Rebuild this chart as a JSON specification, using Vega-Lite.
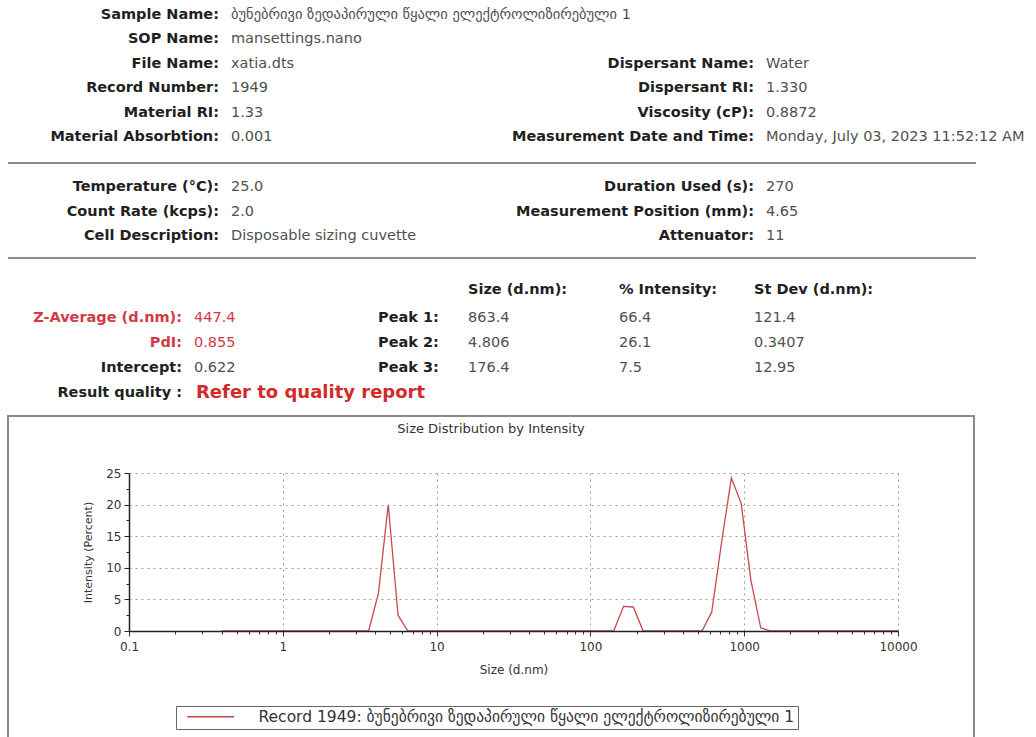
{
  "$schema": "https://vega.github.io/schema/vega-lite/v6.json",
  "background": "white",
  "padding": {"left": 7, "top": 0, "right": 0, "bottom": 0},
  "config": {"font": "DejaVu Sans", "view": {"stroke": null}, "concat": {"spacing": 10}},
  "datasets": {
    "separators": [{"row": 7}, {"row": 11}],
    "info": [
      {"row": 1, "col": 2, "label": "Sample Name:", "value": "ბუნებრივი ზედაპირული წყალი ელექტროლიზირებული 1", "kind": "normal"},
      {"row": 2, "col": 2, "label": "SOP Name:", "value": "mansettings.nano", "kind": "normal"},
      {"row": 3, "col": 2, "label": "File Name:", "value": "xatia.dts", "kind": "normal"},
      {"row": 4, "col": 2, "label": "Record Number:", "value": "1949", "kind": "normal"},
      {"row": 5, "col": 2, "label": "Material RI:", "value": "1.33", "kind": "normal"},
      {"row": 6, "col": 2, "label": "Material Absorbtion:", "value": "0.001", "kind": "normal"},
      {"row": 3, "col": 7, "label": "Dispersant Name:", "value": "Water", "kind": "normal"},
      {"row": 4, "col": 7, "label": "Dispersant RI:", "value": "1.330", "kind": "normal"},
      {"row": 5, "col": 7, "label": "Viscosity (cP):", "value": "0.8872", "kind": "normal"},
      {"row": 6, "col": 7, "label": "Measurement Date and Time:", "value": "Monday, July 03, 2023 11:52:12 AM", "kind": "normal"},
      {"row": 8, "col": 2, "label": "Temperature (°C):", "value": "25.0", "kind": "normal"},
      {"row": 9, "col": 2, "label": "Count Rate (kcps):", "value": "2.0", "kind": "normal"},
      {"row": 10, "col": 2, "label": "Cell Description:", "value": "Disposable sizing cuvette", "kind": "normal"},
      {"row": 8, "col": 7, "label": "Duration Used (s):", "value": "270", "kind": "normal"},
      {"row": 9, "col": 7, "label": "Measurement Position (mm):", "value": "4.65", "kind": "normal"},
      {"row": 10, "col": 7, "label": "Attenuator:", "value": "11", "kind": "normal"},
      {"row": 13, "col": 1, "label": "Z-Average (d.nm):", "value": "447.4", "kind": "alert"},
      {"row": 14, "col": 1, "label": "PdI:", "value": "0.855", "kind": "alert"},
      {"row": 15, "col": 1, "label": "Intercept:", "value": "0.622", "kind": "normal"},
      {"row": 16, "col": 1, "label": "Result quality :", "value": "Refer to quality report", "kind": "quality"}
    ],
    "table": [
      {"row": 12, "col": 4, "text": "Size (d.nm):", "head": true},
      {"row": 12, "col": 5, "text": "% Intensity:", "head": true},
      {"row": 12, "col": 6, "text": "St Dev (d.nm):", "head": true},
      {"row": 13, "col": 3, "text": "Peak 1:", "head": true},
      {"row": 14, "col": 3, "text": "Peak 2:", "head": true},
      {"row": 15, "col": 3, "text": "Peak 3:", "head": true},
      {"row": 13, "col": 4, "text": "863.4", "head": false},
      {"row": 13, "col": 5, "text": "66.4", "head": false},
      {"row": 13, "col": 6, "text": "121.4", "head": false},
      {"row": 14, "col": 4, "text": "4.806", "head": false},
      {"row": 14, "col": 5, "text": "26.1", "head": false},
      {"row": 14, "col": 6, "text": "0.3407", "head": false},
      {"row": 15, "col": 4, "text": "176.4", "head": false},
      {"row": 15, "col": 5, "text": "7.5", "head": false},
      {"row": 15, "col": 6, "text": "12.95", "head": false}
    ],
    "curve": [
      {"size": 0.4, "intensity": 0, "series": "Record 1949: ბუნებრივი ზედაპირული წყალი ელექტროლიზირებული 1"},
      {"size": 0.4632, "intensity": 0, "series": "Record 1949: ბუნებრივი ზედაპირული წყალი ელექტროლიზირებული 1"},
      {"size": 0.5365, "intensity": 0, "series": "Record 1949: ბუნებრივი ზედაპირული წყალი ელექტროლიზირებული 1"},
      {"size": 0.6213, "intensity": 0, "series": "Record 1949: ბუნებრივი ზედაპირული წყალი ელექტროლიზირებული 1"},
      {"size": 0.7195, "intensity": 0, "series": "Record 1949: ბუნებრივი ზედაპირული წყალი ელექტროლიზირებული 1"},
      {"size": 0.8332, "intensity": 0, "series": "Record 1949: ბუნებრივი ზედაპირული წყალი ელექტროლიზირებული 1"},
      {"size": 0.9649, "intensity": 0, "series": "Record 1949: ბუნებრივი ზედაპირული წყალი ელექტროლიზირებული 1"},
      {"size": 1.117, "intensity": 0, "series": "Record 1949: ბუნებრივი ზედაპირული წყალი ელექტროლიზირებული 1"},
      {"size": 1.294, "intensity": 0, "series": "Record 1949: ბუნებრივი ზედაპირული წყალი ელექტროლიზირებული 1"},
      {"size": 1.499, "intensity": 0, "series": "Record 1949: ბუნებრივი ზედაპირული წყალი ელექტროლიზირებული 1"},
      {"size": 1.736, "intensity": 0, "series": "Record 1949: ბუნებრივი ზედაპირული წყალი ელექტროლიზირებული 1"},
      {"size": 2.01, "intensity": 0, "series": "Record 1949: ბუნებრივი ზედაპირული წყალი ელექტროლიზირებული 1"},
      {"size": 2.328, "intensity": 0, "series": "Record 1949: ბუნებრივი ზედაპირული წყალი ელექტროლიზირებული 1"},
      {"size": 2.696, "intensity": 0, "series": "Record 1949: ბუნებრივი ზედაპირული წყალი ელექტროლიზირებული 1"},
      {"size": 3.122, "intensity": 0, "series": "Record 1949: ბუნებრივი ზედაპირული წყალი ელექტროლიზირებული 1"},
      {"size": 3.615, "intensity": 0, "series": "Record 1949: ბუნებრივი ზედაპირული წყალი ელექტროლიზირებული 1"},
      {"size": 4.187, "intensity": 6.0, "series": "Record 1949: ბუნებრივი ზედაპირული წყალი ელექტროლიზირებული 1"},
      {"size": 4.849, "intensity": 20.0, "series": "Record 1949: ბუნებრივი ზედაპირული წყალი ელექტროლიზირებული 1"},
      {"size": 5.615, "intensity": 2.5, "series": "Record 1949: ბუნებრივი ზედაპირული წყალი ელექტროლიზირებული 1"},
      {"size": 6.503, "intensity": 0, "series": "Record 1949: ბუნებრივი ზედაპირული წყალი ელექტროლიზირებული 1"},
      {"size": 7.531, "intensity": 0, "series": "Record 1949: ბუნებრივი ზედაპირული წყალი ელექტროლიზირებული 1"},
      {"size": 8.721, "intensity": 0, "series": "Record 1949: ბუნებრივი ზედაპირული წყალი ელექტროლიზირებული 1"},
      {"size": 10.1, "intensity": 0, "series": "Record 1949: ბუნებრივი ზედაპირული წყალი ელექტროლიზირებული 1"},
      {"size": 11.7, "intensity": 0, "series": "Record 1949: ბუნებრივი ზედაპირული წყალი ელექტროლიზირებული 1"},
      {"size": 13.54, "intensity": 0, "series": "Record 1949: ბუნებრივი ზედაპირული წყალი ელექტროლიზირებული 1"},
      {"size": 15.69, "intensity": 0, "series": "Record 1949: ბუნებრივი ზედაპირული წყალი ელექტროლიზირებული 1"},
      {"size": 18.17, "intensity": 0, "series": "Record 1949: ბუნებრივი ზედაპირული წყალი ელექტროლიზირებული 1"},
      {"size": 21.04, "intensity": 0, "series": "Record 1949: ბუნებრივი ზედაპირული წყალი ელექტროლიზირებული 1"},
      {"size": 24.36, "intensity": 0, "series": "Record 1949: ბუნებრივი ზედაპირული წყალი ელექტროლიზირებული 1"},
      {"size": 28.21, "intensity": 0, "series": "Record 1949: ბუნებრივი ზედაპირული წყალი ელექტროლიზირებული 1"},
      {"size": 32.67, "intensity": 0, "series": "Record 1949: ბუნებრივი ზედაპირული წყალი ელექტროლიზირებული 1"},
      {"size": 37.84, "intensity": 0, "series": "Record 1949: ბუნებრივი ზედაპირული წყალი ელექტროლიზირებული 1"},
      {"size": 43.82, "intensity": 0, "series": "Record 1949: ბუნებრივი ზედაპირული წყალი ელექტროლიზირებული 1"},
      {"size": 50.75, "intensity": 0, "series": "Record 1949: ბუნებრივი ზედაპირული წყალი ელექტროლიზირებული 1"},
      {"size": 58.77, "intensity": 0, "series": "Record 1949: ბუნებრივი ზედაპირული წყალი ელექტროლიზირებული 1"},
      {"size": 68.06, "intensity": 0, "series": "Record 1949: ბუნებრივი ზედაპირული წყალი ელექტროლიზირებული 1"},
      {"size": 78.82, "intensity": 0, "series": "Record 1949: ბუნებრივი ზედაპირული წყალი ელექტროლიზირებული 1"},
      {"size": 91.28, "intensity": 0, "series": "Record 1949: ბუნებრივი ზედაპირული წყალი ელექტროლიზირებული 1"},
      {"size": 105.7, "intensity": 0, "series": "Record 1949: ბუნებრივი ზედაპირული წყალი ელექტროლიზირებული 1"},
      {"size": 122.4, "intensity": 0, "series": "Record 1949: ბუნებრივი ზედაპირული წყალი ელექტროლიზირებული 1"},
      {"size": 141.8, "intensity": 0, "series": "Record 1949: ბუნებრივი ზედაპირული წყალი ელექტროლიზირებული 1"},
      {"size": 164.2, "intensity": 3.9, "series": "Record 1949: ბუნებრივი ზედაპირული წყალი ელექტროლიზირებული 1"},
      {"size": 190.1, "intensity": 3.8, "series": "Record 1949: ბუნებრივი ზედაპირული წყალი ელექტროლიზირებული 1"},
      {"size": 220.2, "intensity": 0, "series": "Record 1949: ბუნებრივი ზედაპირული წყალი ელექტროლიზირებული 1"},
      {"size": 255.0, "intensity": 0, "series": "Record 1949: ბუნებრივი ზედაპირული წყალი ელექტროლიზირებული 1"},
      {"size": 295.3, "intensity": 0, "series": "Record 1949: ბუნებრივი ზედაპირული წყალი ელექტროლიზირებული 1"},
      {"size": 342.0, "intensity": 0, "series": "Record 1949: ბუნებრივი ზედაპირული წყალი ელექტროლიზირებული 1"},
      {"size": 396.1, "intensity": 0, "series": "Record 1949: ბუნებრივი ზედაპირული წყალი ელექტროლიზირებული 1"},
      {"size": 458.7, "intensity": 0, "series": "Record 1949: ბუნებრივი ზედაპირული წყალი ელექტროლიზირებული 1"},
      {"size": 531.2, "intensity": 0, "series": "Record 1949: ბუნებრივი ზედაპირული წყალი ელექტროლიზირებული 1"},
      {"size": 615.1, "intensity": 3.0, "series": "Record 1949: ბუნებრივი ზედაპირული წყალი ელექტროლიზირებული 1"},
      {"size": 712.4, "intensity": 14.0, "series": "Record 1949: ბუნებრივი ზედაპირული წყალი ელექტროლიზირებული 1"},
      {"size": 825.0, "intensity": 24.2, "series": "Record 1949: ბუნებრივი ზედაპირული წყალი ელექტროლიზირებული 1"},
      {"size": 955.4, "intensity": 20.2, "series": "Record 1949: ბუნებრივი ზედაპირული წყალი ელექტროლიზირებული 1"},
      {"size": 1106, "intensity": 8.0, "series": "Record 1949: ბუნებრივი ზედაპირული წყალი ელექტროლიზირებული 1"},
      {"size": 1281, "intensity": 0.5, "series": "Record 1949: ბუნებრივი ზედაპირული წყალი ელექტროლიზირებული 1"},
      {"size": 1484, "intensity": 0, "series": "Record 1949: ბუნებრივი ზედაპირული წყალი ელექტროლიზირებული 1"},
      {"size": 1718, "intensity": 0, "series": "Record 1949: ბუნებრივი ზედაპირული წყალი ელექტროლიზირებული 1"},
      {"size": 1990, "intensity": 0, "series": "Record 1949: ბუნებრივი ზედაპირული წყალი ელექტროლიზირებული 1"},
      {"size": 2305, "intensity": 0, "series": "Record 1949: ბუნებრივი ზედაპირული წყალი ელექტროლიზირებული 1"},
      {"size": 2669, "intensity": 0, "series": "Record 1949: ბუნებრივი ზედაპირული წყალი ელექტროლიზირებული 1"},
      {"size": 3091, "intensity": 0, "series": "Record 1949: ბუნებრივი ზედაპირული წყალი ელექტროლიზირებული 1"},
      {"size": 3580, "intensity": 0, "series": "Record 1949: ბუნებრივი ზედაპირული წყალი ელექტროლიზირებული 1"},
      {"size": 4145, "intensity": 0, "series": "Record 1949: ბუნებრივი ზედაპირული წყალი ელექტროლიზირებული 1"},
      {"size": 4801, "intensity": 0, "series": "Record 1949: ბუნებრივი ზედაპირული წყალი ელექტროლიზირებული 1"},
      {"size": 5560, "intensity": 0, "series": "Record 1949: ბუნებრივი ზედაპირული წყალი ელექტროლიზირებული 1"},
      {"size": 6439, "intensity": 0, "series": "Record 1949: ბუნებრივი ზედაპირული წყალი ელექტროლიზირებული 1"},
      {"size": 7456, "intensity": 0, "series": "Record 1949: ბუნებრივი ზედაპირული წყალი ელექტროლიზირებული 1"},
      {"size": 8635, "intensity": 0, "series": "Record 1949: ბუნებრივი ზედაპირული წყალი ელექტროლიზირებული 1"},
      {"size": 10000, "intensity": 0, "series": "Record 1949: ბუნებრივი ზედაპირული წყალი ელექტროლიზირებული 1"}
    ]
  },
  "vconcat": [
    {
      "width": 968,
      "height": 405,
      "layer": [
        {
          "data": {"name": "separators"},
          "mark": {"type": "rule", "color": "#8c8c8c", "strokeWidth": 2},
          "encoding": {
            "y": {"field": "row", "type": "quantitative", "axis": null,
                  "scale": {"domain": [1, 6, 7, 10, 11, 12, 13, 16], "range": [15, 137, 163, 236, 258, 290, 318, 393], "nice": false, "zero": false}}
          }
        },
        {
          "data": {"name": "info"},
          "mark": {"type": "text", "align": "right", "baseline": "middle", "dx": -6, "fontWeight": "bold", "fontSize": 14.5},
          "encoding": {
            "x": {"field": "col", "type": "quantitative", "axis": null,
                  "scale": {"domain": [1, 2, 3, 4, 5, 6, 7], "range": [180, 217, 370, 460, 611, 746, 752], "nice": false, "zero": false}},
            "y": {"field": "row", "type": "quantitative", "axis": null,
                  "scale": {"domain": [1, 6, 7, 10, 11, 12, 13, 16], "range": [15, 137, 163, 236, 258, 290, 318, 393], "nice": false, "zero": false}},
            "text": {"field": "label"},
            "color": {"condition": {"test": "datum.kind === 'alert'", "value": "#d23a45"}, "value": "#1f1f1f"}
          }
        },
        {
          "data": {"name": "info"},
          "transform": [{"filter": "datum.kind !== 'quality'"}],
          "mark": {"type": "text", "align": "left", "baseline": "middle", "dx": 6, "fontSize": 14.5},
          "encoding": {
            "x": {"field": "col", "type": "quantitative", "axis": null,
                  "scale": {"domain": [1, 2, 3, 4, 5, 6, 7], "range": [180, 217, 370, 460, 611, 746, 752], "nice": false, "zero": false}},
            "y": {"field": "row", "type": "quantitative", "axis": null,
                  "scale": {"domain": [1, 6, 7, 10, 11, 12, 13, 16], "range": [15, 137, 163, 236, 258, 290, 318, 393], "nice": false, "zero": false}},
            "text": {"field": "value"},
            "color": {"condition": {"test": "datum.kind === 'alert'", "value": "#d23a45"}, "value": "#505050"}
          }
        },
        {
          "data": {"name": "info"},
          "transform": [{"filter": "datum.kind === 'quality'"}],
          "mark": {"type": "text", "align": "left", "baseline": "middle", "dx": 8, "fontSize": 18, "fontWeight": "bold", "color": "#d12a2a"},
          "encoding": {
            "x": {"field": "col", "type": "quantitative", "axis": null,
                  "scale": {"domain": [1, 2, 3, 4, 5, 6, 7], "range": [180, 217, 370, 460, 611, 746, 752], "nice": false, "zero": false}},
            "y": {"field": "row", "type": "quantitative", "axis": null,
                  "scale": {"domain": [1, 6, 7, 10, 11, 12, 13, 16], "range": [15, 137, 163, 236, 258, 290, 318, 393], "nice": false, "zero": false}},
            "text": {"field": "value"}
          }
        },
        {
          "data": {"name": "table"},
          "transform": [{"filter": "datum.head"}],
          "mark": {"type": "text", "align": "left", "baseline": "middle", "fontSize": 14.5, "fontWeight": "bold", "color": "#1f1f1f"},
          "encoding": {
            "x": {"field": "col", "type": "quantitative", "axis": null,
                  "scale": {"domain": [1, 2, 3, 4, 5, 6, 7], "range": [180, 217, 370, 460, 611, 746, 752], "nice": false, "zero": false}},
            "y": {"field": "row", "type": "quantitative", "axis": null,
                  "scale": {"domain": [1, 6, 7, 10, 11, 12, 13, 16], "range": [15, 137, 163, 236, 258, 290, 318, 393], "nice": false, "zero": false}},
            "text": {"field": "text"}
          }
        },
        {
          "data": {"name": "table"},
          "transform": [{"filter": "!datum.head"}],
          "mark": {"type": "text", "align": "left", "baseline": "middle", "fontSize": 14.5, "color": "#505050"},
          "encoding": {
            "x": {"field": "col", "type": "quantitative", "axis": null,
                  "scale": {"domain": [1, 2, 3, 4, 5, 6, 7], "range": [180, 217, 370, 460, 611, 746, 752], "nice": false, "zero": false}},
            "y": {"field": "row", "type": "quantitative", "axis": null,
                  "scale": {"domain": [1, 6, 7, 10, 11, 12, 13, 16], "range": [15, 137, 163, 236, 258, 290, 318, 393], "nice": false, "zero": false}},
            "text": {"field": "text"}
          }
        }
      ]
    },
    {
      "width": 966,
      "height": 330,
      "view": {"stroke": "#8a8a8a", "strokeWidth": 2},
      "title": {"text": "Size Distribution by Intensity", "fontSize": 13, "fontWeight": "normal", "color": "#333333", "anchor": "middle", "frame": "group", "offset": -20},
      "data": {"name": "curve"},
      "layer": [
        {
          "mark": {"type": "line", "strokeWidth": 1.3},
          "encoding": {
            "x": {
              "field": "size", "type": "quantitative",
              "scale": {"type": "log", "domain": [0.1, 10000], "range": [121, 890], "nice": false},
              "axis": {
                "orient": "bottom", "offset": -115, "grid": false, "zindex": 1,
                "values": [0.1, 0.2, 0.3, 0.4, 0.5, 0.6, 0.7, 0.8, 0.9, 1, 2, 3, 4, 5, 6, 7, 8, 9, 10, 20, 30, 40, 50, 60, 70, 80, 90, 100, 200, 300, 400, 500, 600, 700, 800, 900, 1000, 2000, 3000, 4000, 5000, 6000, 7000, 8000, 9000, 10000],
                "labelExpr": "indexof([0.1, 1, 10, 100, 1000, 10000], datum.value) >= 0 ? '' + datum.value : ''",
                "labelOverlap": false, "labelFlush": false, "labelBound": false,
                "tickSize": {"condition": {"test": "indexof([0.1, 1, 10, 100, 1000, 10000], datum.value) >= 0", "value": 5}, "value": 3},
                "tickColor": "#333333", "domainColor": "#222222", "domainWidth": 1.5,
                "labelFontSize": 12, "labelColor": "#333333", "labelPadding": 5,
                "title": "Size (d.nm)", "titleFontSize": 12, "titleFontWeight": "normal", "titleColor": "#333333", "titlePadding": 12
              }
            },
            "y": {
              "field": "intensity", "type": "quantitative",
              "scale": {"domain": [0, 25], "range": [215, 57], "nice": false, "zero": false},
              "axis": {
                "orient": "left", "offset": -121, "zindex": 1,
                "values": [0, 2.5, 5, 7.5, 10, 12.5, 15, 17.5, 20, 22.5, 25],
                "labelExpr": "datum.value % 5 === 0 ? datum.label : ''",
                "labelOverlap": false,
                "grid": true, "gridDash": [2, 4], "gridColor": "#9a9a9a", "gridWidth": 1,
                "gridOpacity": {"condition": {"test": "datum.value % 5 !== 0 || datum.value === 0", "value": 0}, "value": 1},
                "tickSize": {"condition": {"test": "datum.value % 5 === 0", "value": 5}, "value": 3},
                "tickColor": "#222222", "domainColor": "#222222", "domainWidth": 1.5,
                "labelFontSize": 12, "labelColor": "#333333", "labelPadding": 3,
                "title": "Intensity (Percent)", "titleFontSize": 11, "titleFontWeight": "normal", "titleColor": "#333333", "titlePadding": 12
              }
            },
            "color": {
              "field": "series", "type": "nominal",
              "scale": {"range": ["#c9474d"]},
              "legend": {
                "title": null, "orient": "none", "legendX": 168, "legendY": 706,
                "symbolType": "M-4,0H4", "symbolSize": 138, "symbolStrokeWidth": 1.3,
                "strokeColor": "#666666", "padding": 3,
                "labelFontSize": 15.5, "labelColor": "#333333", "labelLimit": 1000, "labelOffset": 40, "symbolOffset": 24
              }
            }
          }
        },
        {
          "mark": {"type": "line", "strokeOpacity": 0},
          "encoding": {
            "x": {
              "field": "size", "type": "quantitative",
              "scale": {"type": "log", "domain": [0.1, 10000], "range": [121, 890], "nice": false},
              "axis": {
                "orient": "top", "grid": true, "labels": false, "ticks": false, "domain": false, "title": null,
                "values": [0.1, 1, 10, 100, 1000, 10000],
                "gridDash": [2, 4], "gridColor": "#9a9a9a", "gridWidth": 1,
                "minExtent": 0, "maxExtent": 0
              }
            },
            "y": {
              "field": "intensity", "type": "quantitative",
              "scale": {"domain": [0, 25], "range": [215, 57], "nice": false, "zero": false},
              "axis": {
                "orient": "left", "offset": -121, "zindex": 1,
                "values": [0, 2.5, 5, 7.5, 10, 12.5, 15, 17.5, 20, 22.5, 25],
                "labelExpr": "datum.value % 5 === 0 ? datum.label : ''",
                "labelOverlap": false,
                "grid": true, "gridDash": [2, 4], "gridColor": "#9a9a9a", "gridWidth": 1,
                "gridOpacity": {"condition": {"test": "datum.value % 5 !== 0 || datum.value === 0", "value": 0}, "value": 1},
                "tickSize": {"condition": {"test": "datum.value % 5 === 0", "value": 5}, "value": 3},
                "tickColor": "#222222", "domainColor": "#222222", "domainWidth": 1.5,
                "labelFontSize": 12, "labelColor": "#333333", "labelPadding": 3,
                "title": "Intensity (Percent)", "titleFontSize": 11, "titleFontWeight": "normal", "titleColor": "#333333", "titlePadding": 12
              }
            }
          }
        }
      ],
      "resolve": {"axis": {"x": "independent"}}
    }
  ]
}
